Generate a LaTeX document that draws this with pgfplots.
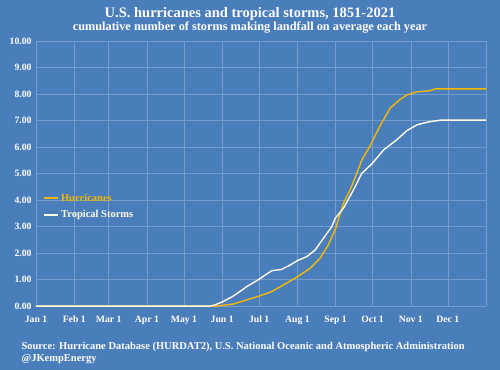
\documentclass[border=0pt]{standalone}
\usepackage{pgfplots}
\pgfplotsset{compat=1.18}
\usepackage{fontspec}
\setmainfont{Liberation Serif}
\definecolor{bg}{HTML}{4A7EBB}
\definecolor{gridc}{HTML}{759CCC}
\definecolor{hur}{HTML}{F5B800}
\definecolor{ts}{HTML}{FFFBE6}
\begin{document}
\begin{tikzpicture}
\fill[bg] (0,0) rectangle (500bp,370bp);
\node[text=white,font=\bfseries\fontsize{14.5bp}{16bp}\selectfont] at (250bp,356bp) {U.S. hurricanes and tropical storms, 1851-2021};
\node[text=white,font=\bfseries\fontsize{12.3bp}{14bp}\selectfont] at (250bp,342bp) {cumulative number of storms making landfall on average each year};
\node[text=white,anchor=west,font=\bfseries\fontsize{10.5bp}{12bp}\selectfont] at (18bp,23bp) {Source: Hurricane Database (HURDAT2), U.S. National Oceanic and Atmospheric Administration};
\node[text=white,anchor=west,font=\bfseries\fontsize{10.5bp}{12bp}\selectfont] at (18bp,11bp) {@JKempEnergy};
\begin{axis}[
  at={(36bp,63.8bp)}, anchor=south west,
  scale only axis, width=450bp, height=265bp,
  xmin=0, xmax=365, ymin=0, ymax=10,
  axis line style={draw=none},
  tick style={draw=none},
  xtick={0,31,59,90,120,151,181,212,243,273,304,334,365},
  xticklabels={Jan 1,Feb 1,Mar 1,Apr 1,May 1,Jun 1,Jul 1,Aug 1,Sep 1,Oct 1,Nov 1,Dec 1,},
  ytick={0,1,...,10},
  yticklabel={\pgfmathprintnumber[fixed,fixed zerofill,precision=2]{\tick}},
  /pgf/number format/assume math mode=true,
  ticklabel style={text=white,font=\bfseries\fontsize{9.7bp}{10bp}\selectfont},
  xticklabel style={yshift=-6bp},
  yticklabel style={xshift=-1bp},
  grid=major,
  major grid style={gridc,line width=0.5bp},
  legend style={draw=none,fill=none,at={(0.01,0.44)},anchor=north west,
    font=\bfseries\fontsize{10.5bp}{12bp}\selectfont,row sep=4bp},
  legend cell align=left,
  legend image code/.code={\draw[#1] (0bp,0bp) -- (14bp,0bp);},
]
\addplot[hur,line width=1.4bp] coordinates {
(0,0) (145,0) (149.3,0.02) (160,0.08) (168.2,0.2) (181,0.38) (191.2,0.55) (200.6,0.8) (212,1.11) (222.3,1.43) (230.4,1.81) (233.6,2.05) (237.1,2.31) (243.1,2.94) (249.3,3.88) (254.7,4.38) (260.2,5.01) (264.2,5.51) (271,6.05) (279,6.8) (287.2,7.47) (290,7.59) (295.3,7.8) (300.7,7.97) (308.8,8.09) (319.7,8.13) (323.7,8.2) (365,8.2)
};
\addlegendentry{\textcolor{hur}{Hurricanes}}
\addplot[ts,line width=1.4bp] coordinates {
(0,0) (141,0) (145.2,0.05) (151.5,0.17) (160,0.38) (171,0.74) (181,1.02) (191.2,1.34) (199.3,1.39) (206,1.55) (212,1.72) (219.6,1.87) (226.4,2.12) (233.1,2.56) (239.9,3.0) (242.6,3.31) (249.3,3.69) (257.4,4.38) (264.2,5.01) (272.8,5.39) (281.8,5.89) (292.6,6.28) (300.7,6.62) (308.8,6.84) (318,6.95) (327.8,7.02) (365,7.02)
};
\addlegendentry{\textcolor{ts}{Tropical Storms}}
\end{axis}
\end{tikzpicture}
\end{document}
